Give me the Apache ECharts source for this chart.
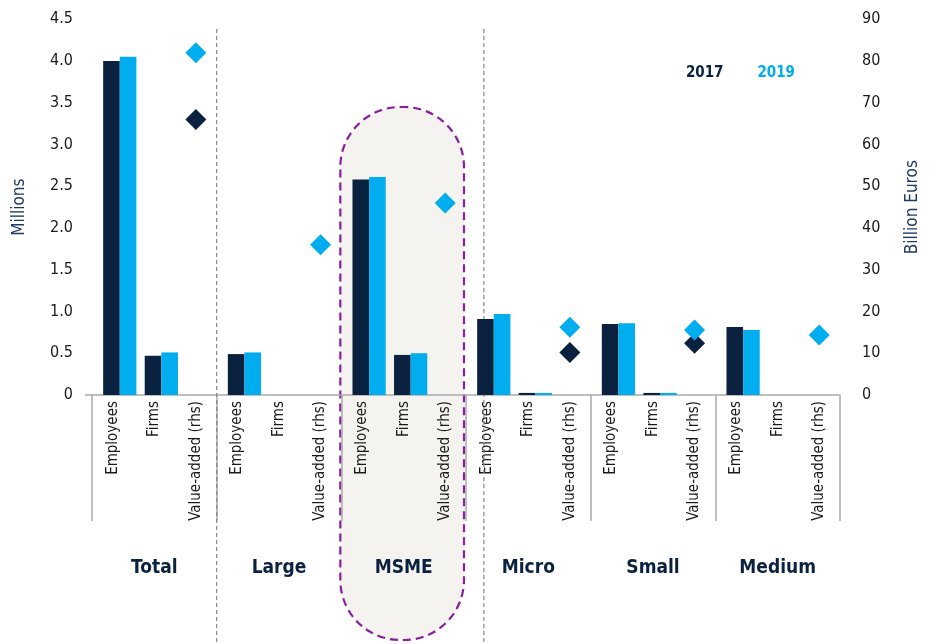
<!DOCTYPE html>
<html><head><meta charset="utf-8">
<script src="https://cdn.jsdelivr.net/npm/echarts@6/dist/echarts.min.js"></script>
<style>html,body{margin:0;padding:0;background:#fff}#c{width:931px;height:644px}</style>
</head><body><div id="c"></div>
<script>
const groups = ['Total','Large','MSME','Micro','Small','Medium'];
const measures = ['Employees','Firms','Value-added (rhs)'];
const categories = [];
groups.forEach(g => measures.forEach(m => categories.push(g + '|' + m)));
// Millions (lhs) for Employees and Firms; null where value-added
const bars2017 = [4.00, 0.47, null, 0.49, null, null, 2.58, 0.48, null, 0.91, 0.025, null, 0.85, 0.025, null, 0.815, null, null];
const bars2019 = [4.05, 0.51, null, 0.51, null, null, 2.61, 0.50, null, 0.97, 0.025, null, 0.86, 0.025, null, 0.78, null, null];
// Billion Euros (rhs) value-added
const va2017 = [null, null, 66, null, null, null, null, null, null, null, null, 10.2, null, null, 12.4, null, null, null];
const va2019 = [null, null, 82, null, null, 36, null, null, 46, null, null, 16.2, null, null, 15.6, null, null, 14.4];
const leftTicks = [0, 0.5, 1.0, 1.5, 2.0, 2.5, 3.0, 3.5, 4.0, 4.5];
const rightTicks = [0, 10, 20, 30, 40, 50, 60, 70, 80, 90];

const DARK = '#0a2240', LIGHT = '#00adee';
const FONT = '"Liberation Sans Narrow","DejaVu Sans Condensed","Roboto Condensed",sans-serif';
const chart = echarts.init(document.getElementById('c'));
const option = {
  animation: false,
  textStyle: { fontFamily: FONT },
  grid: [
    { left: 92, right: 91, top: 19.3, bottom: 249 },
    { left: 99, right: 84, top: 19.3, bottom: 249 }
  ],
  legend: {
    right: 131, top: 61, itemWidth: 0, itemHeight: 0, itemGap: 29,
    data: [
      { name: '2017', icon: 'none', textStyle: { color: DARK } },
      { name: '2019', icon: 'none', textStyle: { color: LIGHT } }
    ],
    textStyle: { fontSize: 15, fontWeight: 'bold', fontFamily: FONT }
  },
  xAxis: [{
    type: 'category', data: categories, gridIndex: 0,
    axisLine: { lineStyle: { color: '#aaaaaa', width: 1.5 } },
    axisTick: { show: true, interval: (i) => i % 3 === 0, length: 126, lineStyle: { color: '#aaaaaa', width: 1.5 } },
    axisLabel: { rotate: 90, interval: 0, margin: 6, fontSize: 15, color: '#1a1a1a', fontFamily: FONT,
      formatter: v => v.split('|')[1] }
  }, {
    type: 'category', data: groups, gridIndex: 0, position: 'bottom',
    axisLine: { show: false }, axisTick: { show: false },
    axisLabel: { margin: 164, fontSize: 19, fontWeight: 'bold', color: DARK, fontFamily: FONT }
  }, {
    type: 'category', data: categories, gridIndex: 1, show: false
  }],
  yAxis: [{
    type: 'value', min: 0, max: 4.5, interval: 0.5, gridIndex: 0,
    name: 'Millions', nameLocation: 'middle', nameGap: 64, nameRotate: 90,
    nameTextStyle: { color: '#1f3a66', fontSize: 17, fontFamily: FONT },
    axisLine: { show: false }, axisTick: { show: false }, splitLine: { show: false },
    axisLabel: { fontSize: 16, color: '#1a1a1a', margin: 19, fontFamily: FONT,
      formatter: v => v === 0 ? '0' : v.toFixed(1) }
  }, {
    type: 'value', min: 0, max: 90, interval: 10, position: 'right', gridIndex: 0,
    name: 'Billion Euros', nameLocation: 'middle', nameGap: 64, nameRotate: 90,
    nameTextStyle: { color: '#1f3a66', fontSize: 17, fontFamily: FONT },
    axisLine: { show: false }, axisTick: { show: false }, splitLine: { show: false },
    axisLabel: { fontSize: 16, color: '#1a1a1a', margin: 22, fontFamily: FONT }
  }, {
    type: 'value', min: 0, max: 4.5, interval: 0.5, gridIndex: 1, show: false
  }],
  series: [
    { name: '2017', type: 'bar', xAxisIndex: 2, yAxisIndex: 2, data: bars2017, itemStyle: { color: DARK }, barGap: '0%', barCategoryGap: '20%', z: 3 },
    { name: '2019', type: 'bar', xAxisIndex: 2, yAxisIndex: 2, data: bars2019, itemStyle: { color: LIGHT }, z: 3 },
    { name: 'VA 2017', type: 'scatter', xAxisIndex: 0, yAxisIndex: 1, data: va2017, symbol: 'diamond', symbolSize: [21, 21], itemStyle: { color: DARK, opacity: 1 }, z: 4 },
    { name: 'VA 2019', type: 'scatter', xAxisIndex: 0, yAxisIndex: 1, data: va2019, symbol: 'diamond', symbolSize: [21, 21], itemStyle: { color: LIGHT, opacity: 1 }, z: 4 }
  ]
};
chart.setOption(option);

function decorate() {
  const c0 = chart.convertToPixel({ xAxisIndex: 0 }, categories[0]);
  const c1 = chart.convertToPixel({ xAxisIndex: 0 }, categories[1]);
  const band = c1 - c0;
  const left = i => chart.convertToPixel({ xAxisIndex: 0 }, categories[i]) - band / 2;
  const axisY = chart.convertToPixel({ yAxisIndex: 0 }, 0);
  const x217 = left(3);
  const x484 = chart.convertToPixel({ xAxisIndex: 0 }, categories[9]) - band * 0.07;
  const msL = left(6) - 1, msR = left(9) - 2;
  chart.setOption({
    graphic: [
      { type: 'rect', z: 0, shape: { x: msL, y: 107, width: msR - msL, height: 533, r: 60 },
        style: { fill: '#f5f3ef', stroke: '#8a1e9e', lineWidth: 2.2, lineDash: [8, 5] } },
      { type: 'line', z: 1, shape: { x1: x217, y1: 29, x2: x217, y2: 644 },
        style: { stroke: '#888888', lineWidth: 1.2, lineDash: [4, 3] } },
      { type: 'line', z: 1, shape: { x1: x484, y1: 29, x2: x484, y2: 644 },
        style: { stroke: '#888888', lineWidth: 1.2, lineDash: [4, 3] } },
      { type: 'line', z: 1, shape: { x1: left(0) - 7, y1: axisY, x2: left(0), y2: axisY },
        style: { stroke: '#aaaaaa', lineWidth: 1.5 } }
    ]
  });
}
decorate();
</script></body></html>
